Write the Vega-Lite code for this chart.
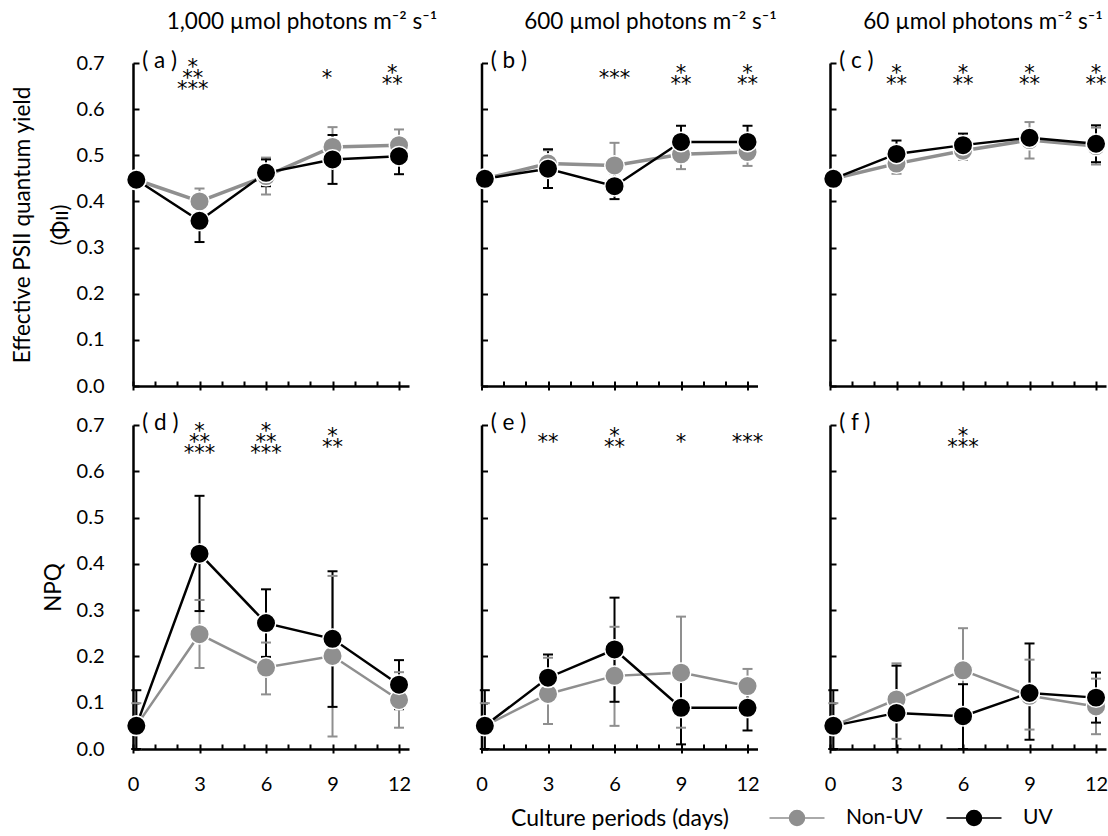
{
"$schema":"https://vega.github.io/schema/vega-lite/v6.json",
"padding":{"left":11,"top":11,"right":0,"bottom":0},
"background":"white",
"config":{"view":{"stroke":null},"font":"Lato"},
"bounds":"flush",
"columns":3,
"spacing":{"row":39,"column":72.5},
"datasets":{
"pts":[
{"p":"a","s":"Non-UV","d":0.15,"v":0.447,"lo":0.44,"hi":0.455},
{"p":"a","s":"Non-UV","d":3,"v":0.400,"lo":0.372,"hi":0.428},
{"p":"a","s":"Non-UV","d":6,"v":0.455,"lo":0.415,"hi":0.495},
{"p":"a","s":"Non-UV","d":9,"v":0.518,"lo":0.475,"hi":0.561},
{"p":"a","s":"Non-UV","d":12,"v":0.522,"lo":0.488,"hi":0.556},
{"p":"a","s":"UV","d":0.15,"v":0.447,"lo":0.44,"hi":0.455},
{"p":"a","s":"UV","d":3,"v":0.358,"lo":0.312,"hi":0.404},
{"p":"a","s":"UV","d":6,"v":0.462,"lo":0.433,"hi":0.491},
{"p":"a","s":"UV","d":9,"v":0.491,"lo":0.438,"hi":0.544},
{"p":"a","s":"UV","d":12,"v":0.498,"lo":0.459,"hi":0.537},
{"p":"b","s":"Non-UV","d":0.15,"v":0.449,"lo":0.442,"hi":0.456},
{"p":"b","s":"Non-UV","d":3,"v":0.482,"lo":0.453,"hi":0.511},
{"p":"b","s":"Non-UV","d":6,"v":0.478,"lo":0.429,"hi":0.527},
{"p":"b","s":"Non-UV","d":9,"v":0.502,"lo":0.470,"hi":0.534},
{"p":"b","s":"Non-UV","d":12,"v":0.507,"lo":0.477,"hi":0.537},
{"p":"b","s":"UV","d":0.15,"v":0.449,"lo":0.442,"hi":0.456},
{"p":"b","s":"UV","d":3,"v":0.471,"lo":0.429,"hi":0.513},
{"p":"b","s":"UV","d":6,"v":0.433,"lo":0.405,"hi":0.461},
{"p":"b","s":"UV","d":9,"v":0.529,"lo":0.494,"hi":0.564},
{"p":"b","s":"UV","d":12,"v":0.529,"lo":0.494,"hi":0.564},
{"p":"c","s":"Non-UV","d":0.15,"v":0.449,"lo":0.442,"hi":0.456},
{"p":"c","s":"Non-UV","d":3,"v":0.482,"lo":0.460,"hi":0.504},
{"p":"c","s":"Non-UV","d":6,"v":0.510,"lo":0.490,"hi":0.530},
{"p":"c","s":"Non-UV","d":9,"v":0.533,"lo":0.493,"hi":0.572},
{"p":"c","s":"Non-UV","d":12,"v":0.520,"lo":0.480,"hi":0.560},
{"p":"c","s":"UV","d":0.15,"v":0.449,"lo":0.442,"hi":0.456},
{"p":"c","s":"UV","d":3,"v":0.503,"lo":0.474,"hi":0.532},
{"p":"c","s":"UV","d":6,"v":0.522,"lo":0.497,"hi":0.547},
{"p":"c","s":"UV","d":9,"v":0.538,"lo":0.525,"hi":0.551},
{"p":"c","s":"UV","d":12,"v":0.525,"lo":0.485,"hi":0.565},
{"p":"d","s":"Non-UV","d":0.15,"v":0.050,"lo":0.0,"hi":0.099},
{"p":"d","s":"Non-UV","d":3,"v":0.248,"lo":0.175,"hi":0.322},
{"p":"d","s":"Non-UV","d":6,"v":0.176,"lo":0.118,"hi":0.230},
{"p":"d","s":"Non-UV","d":9,"v":0.201,"lo":0.027,"hi":0.374},
{"p":"d","s":"Non-UV","d":12,"v":0.106,"lo":0.046,"hi":0.166},
{"p":"d","s":"UV","d":0.15,"v":0.050,"lo":0.0,"hi":0.127},
{"p":"d","s":"UV","d":3,"v":0.422,"lo":0.298,"hi":0.547},
{"p":"d","s":"UV","d":6,"v":0.272,"lo":0.199,"hi":0.345},
{"p":"d","s":"UV","d":9,"v":0.238,"lo":0.091,"hi":0.384},
{"p":"d","s":"UV","d":12,"v":0.139,"lo":0.086,"hi":0.192},
{"p":"e","s":"Non-UV","d":0.15,"v":0.050,"lo":0.0,"hi":0.099},
{"p":"e","s":"Non-UV","d":3,"v":0.119,"lo":0.054,"hi":0.197},
{"p":"e","s":"Non-UV","d":6,"v":0.158,"lo":0.050,"hi":0.264},
{"p":"e","s":"Non-UV","d":9,"v":0.165,"lo":0.046,"hi":0.286},
{"p":"e","s":"Non-UV","d":12,"v":0.136,"lo":0.100,"hi":0.173},
{"p":"e","s":"UV","d":0.15,"v":0.050,"lo":0.0,"hi":0.127},
{"p":"e","s":"UV","d":3,"v":0.154,"lo":0.105,"hi":0.204},
{"p":"e","s":"UV","d":6,"v":0.215,"lo":0.102,"hi":0.327},
{"p":"e","s":"UV","d":9,"v":0.089,"lo":0.010,"hi":0.170},
{"p":"e","s":"UV","d":12,"v":0.089,"lo":0.040,"hi":0.138},
{"p":"f","s":"Non-UV","d":0.15,"v":0.050,"lo":0.0,"hi":0.099},
{"p":"f","s":"Non-UV","d":3,"v":0.107,"lo":0.022,"hi":0.185},
{"p":"f","s":"Non-UV","d":6,"v":0.170,"lo":0.080,"hi":0.261},
{"p":"f","s":"Non-UV","d":9,"v":0.115,"lo":0.042,"hi":0.193},
{"p":"f","s":"Non-UV","d":12,"v":0.092,"lo":0.032,"hi":0.152},
{"p":"f","s":"UV","d":0.15,"v":0.050,"lo":0.0,"hi":0.127},
{"p":"f","s":"UV","d":3,"v":0.078,"lo":0.0,"hi":0.180},
{"p":"f","s":"UV","d":6,"v":0.071,"lo":0.0,"hi":0.140},
{"p":"f","s":"UV","d":9,"v":0.121,"lo":0.020,"hi":0.228},
{"p":"f","s":"UV","d":12,"v":0.111,"lo":0.057,"hi":0.165}
],
"stars":[
{"p":"a","d":2.7,"y":0.702,"t":"*\n**\n***"},
{"p":"a","d":8.75,"y":0.678,"t":"*"},
{"p":"a","d":11.7,"y":0.690,"t":"*\n**"},
{"p":"b","d":6,"y":0.678,"t":"***"},
{"p":"b","d":9,"y":0.690,"t":"*\n**"},
{"p":"b","d":12,"y":0.690,"t":"*\n**"},
{"p":"c","d":3,"y":0.690,"t":"*\n**"},
{"p":"c","d":6,"y":0.690,"t":"*\n**"},
{"p":"c","d":9,"y":0.690,"t":"*\n**"},
{"p":"c","d":12,"y":0.690,"t":"*\n**"},
{"p":"d","d":3,"y":0.697,"t":"*\n**\n***"},
{"p":"d","d":6,"y":0.697,"t":"*\n**\n***"},
{"p":"d","d":9,"y":0.688,"t":"*\n**"},
{"p":"e","d":3,"y":0.674,"t":"**"},
{"p":"e","d":6,"y":0.688,"t":"*\n**"},
{"p":"e","d":9,"y":0.674,"t":"*"},
{"p":"e","d":12,"y":0.674,"t":"***"},
{"p":"f","d":6,"y":0.688,"t":"*\n***"}
],
"labs":[
{"p":"a","d":0.42,"y":0.705,"t":"( a )"},
{"p":"b","d":0.42,"y":0.705,"t":"( b )"},
{"p":"c","d":0.42,"y":0.705,"t":"( c )"},
{"p":"d","d":0.42,"y":0.705,"t":"( d )"},
{"p":"e","d":0.42,"y":0.705,"t":"( e )"},
{"p":"f","d":0.42,"y":0.705,"t":"( f )"}
]
},
"concat":[
{"width":276,"height":323,
"title":{"text":"1,000 µmol photons m⁻² s⁻¹","font":"Lato","fontSize":22.5,"fontWeight":"normal","color":"black","anchor":"middle","dx":31,"offset":16},
"resolve":{"axis":{"x":"independent"}},
"layer":[
{"data":{"name":"pts"},"transform":[{"filter":"datum.p==='a'"}],"mark":{"type":"rule","strokeWidth":2},
"encoding":{"x":{"field":"d","type":"quantitative","scale":{"domain":[0,12.45],"nice":false},"axis":{"orient":"bottom","values":[0,1,2,3,4,5,6,7,8,9,10,11,12],"tickSize":-5,"tickWidth":2,"tickColor":"black","labels":false,"domain":false,"grid":false,"title":null}},
"y":{"field":"lo","type":"quantitative","scale":{"domain":[0,0.7],"nice":false},"axis":{"values":[0,0.1,0.2,0.3,0.4,0.5,0.6,0.7],"format":".1f","tickSize":-6,"tickWidth":2,"tickColor":"black","domainColor":"black","domainWidth":2.5,"labelPadding":35,"labelFont":"Lato","labelFontSize":20,"labelColor":"black","labelFlush":false,"grid":false,"title":["Effective PSII quantum yield","(Φɪɪ)"],"titleFont":"Lato","titleFontSize":22.5,"titleFontWeight":"normal","titleColor":"black","titlePadding":4,"titleLineHeight":38}},
"y2":{"field":"hi"},
"color":{"field":"s","type":"nominal","scale":{"domain":["Non-UV","UV"],"range":["#8f8f8f","#000000"]}}}},
{"data":{"name":"pts"},"transform":[{"filter":"datum.p==='a'"}],"mark":{"type":"tick","orient":"horizontal","size":10,"thickness":2,"opacity":1},
"encoding":{"x":{"field":"d","type":"quantitative","axis":{"orient":"bottom","values":[0,3,6,9,12],"tickSize":4,"tickWidth":2,"tickColor":"black","domainColor":"black","domainWidth":2.5,"labels":false,"grid":false,"title":null}},
"y":{"field":"lo","type":"quantitative"},
"color":{"field":"s","type":"nominal"}}},
{"data":{"name":"pts"},"transform":[{"filter":"datum.p==='a'"}],"mark":{"type":"tick","orient":"horizontal","size":10,"thickness":2,"opacity":1},
"encoding":{"x":{"field":"d","type":"quantitative","axis":null},"y":{"field":"hi","type":"quantitative"},"color":{"field":"s","type":"nominal"}}},
{"data":{"name":"pts"},"transform":[{"filter":"datum.p==='a'"}],"mark":{"type":"line"},
"encoding":{"x":{"field":"d","type":"quantitative","axis":null},"y":{"field":"v","type":"quantitative"},"color":{"field":"s","type":"nominal"},"strokeWidth":{"condition":{"test":"datum.s==='Non-UV'","value":3.5},"value":2.5}}},
{"data":{"name":"pts"},"transform":[{"filter":"datum.p==='a'"}],"mark":{"type":"point","filled":true,"size":380,"stroke":"white","strokeWidth":1.5,"opacity":1},
"encoding":{"x":{"field":"d","type":"quantitative","axis":null},"y":{"field":"v","type":"quantitative"},"color":{"field":"s","type":"nominal"}}},
{"data":{"name":"stars"},"transform":[{"filter":"datum.p==='a'"}],"mark":{"type":"text","font":"DejaVu Sans","fontSize":21,"lineHeight":11,"lineBreak":"\n","baseline":"middle","dy":6,"align":"center","color":"black"},
"encoding":{"x":{"field":"d","type":"quantitative","axis":null},"y":{"field":"y","type":"quantitative"},"text":{"field":"t"}}},
{"data":{"name":"labs"},"transform":[{"filter":"datum.p==='a'"}],"mark":{"type":"text","font":"Lato","fontSize":22.5,"baseline":"middle","align":"left","color":"black"},
"encoding":{"x":{"field":"d","type":"quantitative","axis":null},"y":{"field":"y","type":"quantitative"},"text":{"field":"t"}}}
]},
{"width":276,"height":323,
"title":{"text":"600 µmol photons m⁻² s⁻¹","font":"Lato","fontSize":22.5,"fontWeight":"normal","color":"black","anchor":"middle","dx":31,"offset":16},
"resolve":{"axis":{"x":"independent"}},
"layer":[
{"data":{"name":"pts"},"transform":[{"filter":"datum.p==='b'"}],"mark":{"type":"rule","strokeWidth":2},
"encoding":{"x":{"field":"d","type":"quantitative","scale":{"domain":[0,12.45],"nice":false},"axis":{"orient":"bottom","values":[0,1,2,3,4,5,6,7,8,9,10,11,12],"tickSize":-5,"tickWidth":2,"tickColor":"black","labels":false,"domain":false,"grid":false,"title":null}},
"y":{"field":"lo","type":"quantitative","scale":{"domain":[0,0.7],"nice":false},"axis":{"values":[0,0.1,0.2,0.3,0.4,0.5,0.6,0.7],"tickSize":-6,"tickWidth":2,"tickColor":"black","domainColor":"black","domainWidth":2.5,"labels":false,"grid":false,"title":null}},
"y2":{"field":"hi"},
"color":{"field":"s","type":"nominal","scale":{"domain":["Non-UV","UV"],"range":["#8f8f8f","#000000"]}}}},
{"data":{"name":"pts"},"transform":[{"filter":"datum.p==='b'"}],"mark":{"type":"tick","orient":"horizontal","size":10,"thickness":2,"opacity":1},
"encoding":{"x":{"field":"d","type":"quantitative","axis":{"orient":"bottom","values":[0,3,6,9,12],"tickSize":4,"tickWidth":2,"tickColor":"black","domainColor":"black","domainWidth":2.5,"labels":false,"grid":false,"title":null}},
"y":{"field":"lo","type":"quantitative"},
"color":{"field":"s","type":"nominal"}}},
{"data":{"name":"pts"},"transform":[{"filter":"datum.p==='b'"}],"mark":{"type":"tick","orient":"horizontal","size":10,"thickness":2,"opacity":1},
"encoding":{"x":{"field":"d","type":"quantitative","axis":null},"y":{"field":"hi","type":"quantitative"},"color":{"field":"s","type":"nominal"}}},
{"data":{"name":"pts"},"transform":[{"filter":"datum.p==='b'"}],"mark":{"type":"line"},
"encoding":{"x":{"field":"d","type":"quantitative","axis":null},"y":{"field":"v","type":"quantitative"},"color":{"field":"s","type":"nominal"},"strokeWidth":{"condition":{"test":"datum.s==='Non-UV'","value":3.5},"value":2.5}}},
{"data":{"name":"pts"},"transform":[{"filter":"datum.p==='b'"}],"mark":{"type":"point","filled":true,"size":380,"stroke":"white","strokeWidth":1.5,"opacity":1},
"encoding":{"x":{"field":"d","type":"quantitative","axis":null},"y":{"field":"v","type":"quantitative"},"color":{"field":"s","type":"nominal"}}},
{"data":{"name":"stars"},"transform":[{"filter":"datum.p==='b'"}],"mark":{"type":"text","font":"DejaVu Sans","fontSize":21,"lineHeight":11,"lineBreak":"\n","baseline":"middle","dy":6,"align":"center","color":"black"},
"encoding":{"x":{"field":"d","type":"quantitative","axis":null},"y":{"field":"y","type":"quantitative"},"text":{"field":"t"}}},
{"data":{"name":"labs"},"transform":[{"filter":"datum.p==='b'"}],"mark":{"type":"text","font":"Lato","fontSize":22.5,"baseline":"middle","align":"left","color":"black"},
"encoding":{"x":{"field":"d","type":"quantitative","axis":null},"y":{"field":"y","type":"quantitative"},"text":{"field":"t"}}}
]},
{"width":276,"height":323,
"title":{"text":"60 µmol photons m⁻² s⁻¹","font":"Lato","fontSize":22.5,"fontWeight":"normal","color":"black","anchor":"middle","dx":15,"offset":16},
"resolve":{"axis":{"x":"independent"}},
"layer":[
{"data":{"name":"pts"},"transform":[{"filter":"datum.p==='c'"}],"mark":{"type":"rule","strokeWidth":2},
"encoding":{"x":{"field":"d","type":"quantitative","scale":{"domain":[0,12.45],"nice":false},"axis":{"orient":"bottom","values":[0,1,2,3,4,5,6,7,8,9,10,11,12],"tickSize":-5,"tickWidth":2,"tickColor":"black","labels":false,"domain":false,"grid":false,"title":null}},
"y":{"field":"lo","type":"quantitative","scale":{"domain":[0,0.7],"nice":false},"axis":{"values":[0,0.1,0.2,0.3,0.4,0.5,0.6,0.7],"tickSize":-6,"tickWidth":2,"tickColor":"black","domainColor":"black","domainWidth":2.5,"labels":false,"grid":false,"title":null}},
"y2":{"field":"hi"},
"color":{"field":"s","type":"nominal","scale":{"domain":["Non-UV","UV"],"range":["#8f8f8f","#000000"]}}}},
{"data":{"name":"pts"},"transform":[{"filter":"datum.p==='c'"}],"mark":{"type":"tick","orient":"horizontal","size":10,"thickness":2,"opacity":1},
"encoding":{"x":{"field":"d","type":"quantitative","axis":{"orient":"bottom","values":[0,3,6,9,12],"tickSize":4,"tickWidth":2,"tickColor":"black","domainColor":"black","domainWidth":2.5,"labels":false,"grid":false,"title":null}},
"y":{"field":"lo","type":"quantitative"},
"color":{"field":"s","type":"nominal"}}},
{"data":{"name":"pts"},"transform":[{"filter":"datum.p==='c'"}],"mark":{"type":"tick","orient":"horizontal","size":10,"thickness":2,"opacity":1},
"encoding":{"x":{"field":"d","type":"quantitative","axis":null},"y":{"field":"hi","type":"quantitative"},"color":{"field":"s","type":"nominal"}}},
{"data":{"name":"pts"},"transform":[{"filter":"datum.p==='c'"}],"mark":{"type":"line"},
"encoding":{"x":{"field":"d","type":"quantitative","axis":null},"y":{"field":"v","type":"quantitative"},"color":{"field":"s","type":"nominal"},"strokeWidth":{"condition":{"test":"datum.s==='Non-UV'","value":3.5},"value":2.5}}},
{"data":{"name":"pts"},"transform":[{"filter":"datum.p==='c'"}],"mark":{"type":"point","filled":true,"size":380,"stroke":"white","strokeWidth":1.5,"opacity":1},
"encoding":{"x":{"field":"d","type":"quantitative","axis":null},"y":{"field":"v","type":"quantitative"},"color":{"field":"s","type":"nominal"}}},
{"data":{"name":"stars"},"transform":[{"filter":"datum.p==='c'"}],"mark":{"type":"text","font":"DejaVu Sans","fontSize":21,"lineHeight":11,"lineBreak":"\n","baseline":"middle","dy":6,"align":"center","color":"black"},
"encoding":{"x":{"field":"d","type":"quantitative","axis":null},"y":{"field":"y","type":"quantitative"},"text":{"field":"t"}}},
{"data":{"name":"labs"},"transform":[{"filter":"datum.p==='c'"}],"mark":{"type":"text","font":"Lato","fontSize":22.5,"baseline":"middle","align":"left","color":"black"},
"encoding":{"x":{"field":"d","type":"quantitative","axis":null},"y":{"field":"y","type":"quantitative"},"text":{"field":"t"}}}
]},
{"width":276,"height":324,
"resolve":{"axis":{"x":"independent"}},
"layer":[
{"data":{"name":"pts"},"transform":[{"filter":"datum.p==='d'"}],"mark":{"type":"rule","strokeWidth":2},
"encoding":{"x":{"field":"d","type":"quantitative","scale":{"domain":[0,12.45],"nice":false},"axis":{"orient":"bottom","values":[0,1,2,3,4,5,6,7,8,9,10,11,12],"tickSize":-5,"tickWidth":2,"tickColor":"black","labels":false,"domain":false,"grid":false,"title":null}},
"y":{"field":"lo","type":"quantitative","scale":{"domain":[0,0.7],"nice":false},"axis":{"values":[0,0.1,0.2,0.3,0.4,0.5,0.6,0.7],"format":".1f","tickSize":-6,"tickWidth":2,"tickColor":"black","domainColor":"black","domainWidth":2.5,"labelPadding":35,"labelFont":"Lato","labelFontSize":20,"labelColor":"black","labelFlush":false,"grid":false,"title":"NPQ","titleFont":"Lato","titleFontSize":22.5,"titleFontWeight":"normal","titleColor":"black","titlePadding":11}},
"y2":{"field":"hi"},
"color":{"field":"s","type":"nominal","scale":{"domain":["Non-UV","UV"],"range":["#8f8f8f","#000000"]}}}},
{"data":{"name":"pts"},"transform":[{"filter":"datum.p==='d'"}],"mark":{"type":"tick","orient":"horizontal","size":10,"thickness":2,"opacity":1},
"encoding":{"x":{"field":"d","type":"quantitative","axis":{"orient":"bottom","values":[0,3,6,9,12],"format":"d","tickSize":4,"tickWidth":2,"tickColor":"black","domainColor":"black","domainWidth":2.5,"labelPadding":21,"labelFont":"Lato","labelFontSize":20,"labelColor":"black","labelFlush":false,"grid":false,"title":null}},
"y":{"field":"lo","type":"quantitative"},
"color":{"field":"s","type":"nominal"}}},
{"data":{"name":"pts"},"transform":[{"filter":"datum.p==='d'"}],"mark":{"type":"tick","orient":"horizontal","size":10,"thickness":2,"opacity":1},
"encoding":{"x":{"field":"d","type":"quantitative","axis":null},"y":{"field":"hi","type":"quantitative"},"color":{"field":"s","type":"nominal"}}},
{"data":{"name":"pts"},"transform":[{"filter":"datum.p==='d'"}],"mark":{"type":"line","strokeWidth":2.5},
"encoding":{"x":{"field":"d","type":"quantitative","axis":null},"y":{"field":"v","type":"quantitative"},"color":{"field":"s","type":"nominal"}}},
{"data":{"name":"pts"},"transform":[{"filter":"datum.p==='d'"}],"mark":{"type":"point","filled":true,"size":380,"stroke":"white","strokeWidth":1.5,"opacity":1},
"encoding":{"x":{"field":"d","type":"quantitative","axis":null},"y":{"field":"v","type":"quantitative"},"color":{"field":"s","type":"nominal"}}},
{"data":{"name":"stars"},"transform":[{"filter":"datum.p==='d'"}],"mark":{"type":"text","font":"DejaVu Sans","fontSize":21,"lineHeight":11,"lineBreak":"\n","baseline":"middle","dy":6,"align":"center","color":"black"},
"encoding":{"x":{"field":"d","type":"quantitative","axis":null},"y":{"field":"y","type":"quantitative"},"text":{"field":"t"}}},
{"data":{"name":"labs"},"transform":[{"filter":"datum.p==='d'"}],"mark":{"type":"text","font":"Lato","fontSize":22.5,"baseline":"middle","align":"left","color":"black"},
"encoding":{"x":{"field":"d","type":"quantitative","axis":null},"y":{"field":"y","type":"quantitative"},"text":{"field":"t"}}}
]},
{"width":276,"height":324,
"resolve":{"axis":{"x":"independent"}},
"layer":[
{"data":{"name":"pts"},"transform":[{"filter":"datum.p==='e'"}],"mark":{"type":"rule","strokeWidth":2},
"encoding":{"x":{"field":"d","type":"quantitative","scale":{"domain":[0,12.45],"nice":false},"axis":{"orient":"bottom","values":[0,1,2,3,4,5,6,7,8,9,10,11,12],"tickSize":-5,"tickWidth":2,"tickColor":"black","labels":false,"domain":false,"grid":false,"title":null}},
"y":{"field":"lo","type":"quantitative","scale":{"domain":[0,0.7],"nice":false},"axis":{"values":[0,0.1,0.2,0.3,0.4,0.5,0.6,0.7],"tickSize":-6,"tickWidth":2,"tickColor":"black","domainColor":"black","domainWidth":2.5,"labels":false,"grid":false,"title":null}},
"y2":{"field":"hi"},
"color":{"field":"s","type":"nominal","scale":{"domain":["Non-UV","UV"],"range":["#8f8f8f","#000000"]}}}},
{"data":{"name":"pts"},"transform":[{"filter":"datum.p==='e'"}],"mark":{"type":"tick","orient":"horizontal","size":10,"thickness":2,"opacity":1},
"encoding":{"x":{"field":"d","type":"quantitative","axis":{"orient":"bottom","values":[0,3,6,9,12],"format":"d","tickSize":4,"tickWidth":2,"tickColor":"black","domainColor":"black","domainWidth":2.5,"labelPadding":21,"labelFont":"Lato","labelFontSize":20,"labelColor":"black","labelFlush":false,"grid":false,"title":"Culture periods (days)","titleFont":"Lato","titleFontSize":23,"titleFontWeight":"normal","titleColor":"black","titlePadding":13}},
"y":{"field":"lo","type":"quantitative"},
"color":{"field":"s","type":"nominal"}}},
{"data":{"name":"pts"},"transform":[{"filter":"datum.p==='e'"}],"mark":{"type":"tick","orient":"horizontal","size":10,"thickness":2,"opacity":1},
"encoding":{"x":{"field":"d","type":"quantitative","axis":null},"y":{"field":"hi","type":"quantitative"},"color":{"field":"s","type":"nominal"}}},
{"data":{"name":"pts"},"transform":[{"filter":"datum.p==='e'"}],"mark":{"type":"line","strokeWidth":2.5},
"encoding":{"x":{"field":"d","type":"quantitative","axis":null},"y":{"field":"v","type":"quantitative"},"color":{"field":"s","type":"nominal"}}},
{"data":{"name":"pts"},"transform":[{"filter":"datum.p==='e'"}],"mark":{"type":"point","filled":true,"size":380,"stroke":"white","strokeWidth":1.5,"opacity":1},
"encoding":{"x":{"field":"d","type":"quantitative","axis":null},"y":{"field":"v","type":"quantitative"},"color":{"field":"s","type":"nominal","legend":{"orient":"none","legendX":650.5,"legendY":741.5,"direction":"horizontal","title":null,"symbolType":"M-2.2,0L-0.6,0M0.6,0L2.2,0M-0.6,0A0.6,0.6,0,1,1,0.6,0A0.6,0.6,0,1,1,-0.6,0Z","symbolSize":625,"labelFont":"Lato","labelFontSize":21,"labelColor":"black","labelOffset":35.5,"columnPadding":19,"encode":{"symbols":{"update":{"stroke":{"scale":"color","field":"value"},"fill":{"scale":"color","field":"value"},"strokeWidth":{"value":2.5},"size":{"value":625},"opacity":{"value":1}}}}}}}},
{"data":{"name":"stars"},"transform":[{"filter":"datum.p==='e'"}],"mark":{"type":"text","font":"DejaVu Sans","fontSize":21,"lineHeight":11,"lineBreak":"\n","baseline":"middle","dy":6,"align":"center","color":"black"},
"encoding":{"x":{"field":"d","type":"quantitative","axis":null},"y":{"field":"y","type":"quantitative"},"text":{"field":"t"}}},
{"data":{"name":"labs"},"transform":[{"filter":"datum.p==='e'"}],"mark":{"type":"text","font":"Lato","fontSize":22.5,"baseline":"middle","align":"left","color":"black"},
"encoding":{"x":{"field":"d","type":"quantitative","axis":null},"y":{"field":"y","type":"quantitative"},"text":{"field":"t"}}}
]},
{"width":276,"height":324,
"resolve":{"axis":{"x":"independent"}},
"layer":[
{"data":{"name":"pts"},"transform":[{"filter":"datum.p==='f'"}],"mark":{"type":"rule","strokeWidth":2},
"encoding":{"x":{"field":"d","type":"quantitative","scale":{"domain":[0,12.45],"nice":false},"axis":{"orient":"bottom","values":[0,1,2,3,4,5,6,7,8,9,10,11,12],"tickSize":-5,"tickWidth":2,"tickColor":"black","labels":false,"domain":false,"grid":false,"title":null}},
"y":{"field":"lo","type":"quantitative","scale":{"domain":[0,0.7],"nice":false},"axis":{"values":[0,0.1,0.2,0.3,0.4,0.5,0.6,0.7],"tickSize":-6,"tickWidth":2,"tickColor":"black","domainColor":"black","domainWidth":2.5,"labels":false,"grid":false,"title":null}},
"y2":{"field":"hi"},
"color":{"field":"s","type":"nominal","scale":{"domain":["Non-UV","UV"],"range":["#8f8f8f","#000000"]}}}},
{"data":{"name":"pts"},"transform":[{"filter":"datum.p==='f'"}],"mark":{"type":"tick","orient":"horizontal","size":10,"thickness":2,"opacity":1},
"encoding":{"x":{"field":"d","type":"quantitative","axis":{"orient":"bottom","values":[0,3,6,9,12],"format":"d","tickSize":4,"tickWidth":2,"tickColor":"black","domainColor":"black","domainWidth":2.5,"labelPadding":21,"labelFont":"Lato","labelFontSize":20,"labelColor":"black","labelFlush":false,"grid":false,"title":null}},
"y":{"field":"lo","type":"quantitative"},
"color":{"field":"s","type":"nominal"}}},
{"data":{"name":"pts"},"transform":[{"filter":"datum.p==='f'"}],"mark":{"type":"tick","orient":"horizontal","size":10,"thickness":2,"opacity":1},
"encoding":{"x":{"field":"d","type":"quantitative","axis":null},"y":{"field":"hi","type":"quantitative"},"color":{"field":"s","type":"nominal"}}},
{"data":{"name":"pts"},"transform":[{"filter":"datum.p==='f'"}],"mark":{"type":"line","strokeWidth":2.5},
"encoding":{"x":{"field":"d","type":"quantitative","axis":null},"y":{"field":"v","type":"quantitative"},"color":{"field":"s","type":"nominal"}}},
{"data":{"name":"pts"},"transform":[{"filter":"datum.p==='f'"}],"mark":{"type":"point","filled":true,"size":380,"stroke":"white","strokeWidth":1.5,"opacity":1},
"encoding":{"x":{"field":"d","type":"quantitative","axis":null},"y":{"field":"v","type":"quantitative"},"color":{"field":"s","type":"nominal"}}},
{"data":{"name":"stars"},"transform":[{"filter":"datum.p==='f'"}],"mark":{"type":"text","font":"DejaVu Sans","fontSize":21,"lineHeight":11,"lineBreak":"\n","baseline":"middle","dy":6,"align":"center","color":"black"},
"encoding":{"x":{"field":"d","type":"quantitative","axis":null},"y":{"field":"y","type":"quantitative"},"text":{"field":"t"}}},
{"data":{"name":"labs"},"transform":[{"filter":"datum.p==='f'"}],"mark":{"type":"text","font":"Lato","fontSize":22.5,"baseline":"middle","align":"left","color":"black"},
"encoding":{"x":{"field":"d","type":"quantitative","axis":null},"y":{"field":"y","type":"quantitative"},"text":{"field":"t"}}}
]}
]
}
